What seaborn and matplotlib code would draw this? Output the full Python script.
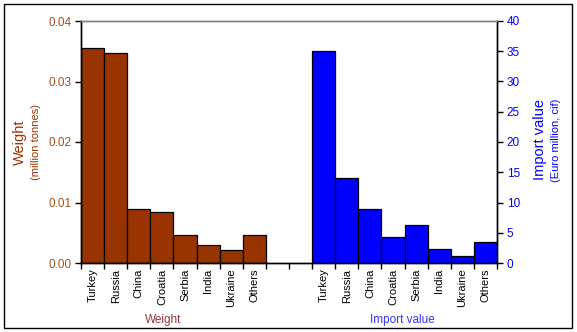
import numpy as np
import pandas as pd
import matplotlib
matplotlib.use("Agg")
import matplotlib.pyplot as plt
from matplotlib.patches import Rectangle
import seaborn as sns

countries = ["Turkey", "Russia", "China", "Croatia", "Serbia", "India", "Ukraine", "Others"]
weight_mt = [0.0355, 0.0347, 0.0090, 0.0084, 0.0046, 0.0029, 0.0021, 0.0046]
import_value_meur = [35.0, 14.0, 8.9, 4.3, 6.3, 2.3, 1.1, 3.4]
group_labels = ["Weight", "Import value"]

BROWN = "#993300"
BLUE = "#0000FF"

sns.set_theme(style="white")
plt.rcParams["font.family"] = ["Liberation Sans", "DejaVu Sans"]

# 18 category slots: 8 weight bars, 2 empty spacer slots, 8 import bars
w_keys = ["w_" + c for c in countries]
v_keys = ["v_" + c for c in countries]
order = w_keys + ["gap1", "gap2"] + v_keys
tick_text = countries + ["", ""] + countries

df = pd.DataFrame({
    "slot": order,
    "weight": list(weight_mt) + [np.nan] * 10,
    "value": [np.nan] * 10 + list(import_value_meur),
})

fig = plt.figure(figsize=(5.77, 3.32), dpi=100)
ax = fig.add_axes([81 / 577, 1 - 263 / 332, (497 - 81) / 577, (263 - 21) / 332])
ax2 = ax.twinx()

sns.barplot(data=df, x="slot", y="weight", order=order, color=BROWN, saturation=1,
            width=1.0, edgecolor="black", linewidth=0.9, errorbar=None, ax=ax)
sns.barplot(data=df, x="slot", y="value", order=order, color=BLUE, saturation=1,
            width=1.0, edgecolor="black", linewidth=0.9, errorbar=None, ax=ax2)

ax.set_xlim(-0.5, len(order) - 0.5)
ax.set_ylim(0, 0.04)
ax2.set_ylim(0, 40)
ax.set_yticks([0, 0.01, 0.02, 0.03, 0.04])
ax.set_yticklabels(["0.00", "0.01", "0.02", "0.03", "0.04"])
ax2.set_yticks(range(0, 41, 5))

# category boundaries as tick marks, names centred under each bar
ax.set_xticks(np.arange(-0.5, len(order), 1.0))
ax.set_xticklabels([])
ax.set_xticks(np.arange(len(order)), minor=True)
ax.set_xticklabels(tick_text, minor=True, rotation=90, fontsize=8, color="black")
ax.tick_params(axis="x", which="major", direction="out", length=4, width=1, color="black", bottom=True)
ax.tick_params(axis="x", which="minor", length=0, pad=4)

ax.tick_params(axis="y", direction="out", length=4, width=1, color="black", left=True,
               labelsize=8.5, labelcolor="#A0521A", pad=3)
ax2.tick_params(axis="y", direction="out", length=4, width=1, color="black", right=True,
                labelsize=8.5, labelcolor=BLUE, pad=3)

for a in (ax, ax2):
    a.set_xlabel("")
    a.set_ylabel("")
    a.grid(False)
    for side in ("left", "right", "bottom"):
        a.spines[side].set_color("black")
        a.spines[side].set_linewidth(1)
    a.spines["top"].set_color("#808080")
    a.spines["top"].set_linewidth(1)

ax.set_facecolor("none")

# axis titles
fig.text(20 / 577, 1 - 142 / 332, "Weight", rotation=90, ha="center", va="center",
         fontsize=10.5, color=BROWN)
fig.text(36 / 577, 1 - 142 / 332, "(million tonnes)", rotation=90, ha="center", va="center",
         fontsize=8, color=BROWN)
fig.text(540 / 577, 1 - 140 / 332, "Import value", rotation=90, ha="center", va="center",
         fontsize=10.5, color=BLUE)
fig.text(556 / 577, 1 - 140 / 332, "(Euro million, cif)", rotation=90, ha="center", va="center",
         fontsize=8, color=BLUE)

# group captions under the category names
fig.text(163 / 577, 1 - 320 / 332, group_labels[0], ha="center", va="center",
         fontsize=8.5, color="#993333")
fig.text(402 / 577, 1 - 320 / 332, group_labels[1], ha="center", va="center",
         fontsize=8.5, color="#3333FF")

# outer frame
fig.patches.append(Rectangle((4 / 577, 4 / 332), 568 / 577, 324 / 332, transform=fig.transFigure,
                             fill=False, edgecolor="black", linewidth=1))

fig.savefig("out.png", dpi=100)
